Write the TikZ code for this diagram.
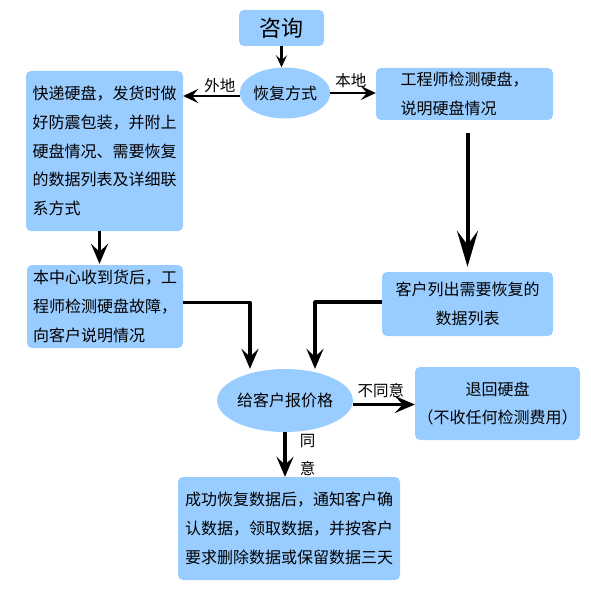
\documentclass[tikz,border=0pt]{standalone}
\usepackage{fontspec}
\newfontfamily\cjk{Noto Sans CJK SC}
\usetikzlibrary{shapes.geometric,arrows.meta}
\definecolor{boxblue}{RGB}{153,204,255}
\tikzset{
  box/.style={fill=boxblue, rounded corners=5pt, inner sep=0pt, align=left,
    font=\cjk\fontsize{16}{28.8}\selectfont},
  oval/.style={ellipse, fill=boxblue, inner sep=0pt, font=\cjk\fontsize{16}{20}\selectfont},
  flow/.style={line width=3.6pt, line join=round, -{Stealth[length=20pt,width=17pt,inset=8pt]}},
  thinflow/.style={line width=2.6pt, -{Stealth[length=15pt,width=14pt,inset=6pt]}},
  lbl/.style={font=\cjk\fontsize{15.5}{28}\selectfont, inner sep=1pt}
}
\begin{document}
\begin{tikzpicture}[x=1pt,y=-1pt]
    \useasboundingbox (0,0) rectangle (591,591);

    \node[box, minimum width=85, minimum height=36, font=\cjk\fontsize{22}{24}\selectfont] (zx) at (281.5,28) {咨询};
    \node[oval, minimum width=88, minimum height=51] (fs) at (285,93) {恢复方式};

    \node[box, minimum width=157, minimum height=160] (kd) at (104.5,151)
      {快递硬盘，发货时做\\好防震包装，并附上\\硬盘情况、需要恢复\\的数据列表及详细联\\系方式};
    \node[box, minimum width=177, minimum height=52] (gc) at (464.5,94)
      {工程师检测硬盘，\\说明硬盘情况};

    \node[box, minimum width=156, minimum height=83] (sh) at (105,306.5)
      {本中心收到货后，工\\程师检测硬盘故障，\\向客户说明情况};
    \node[box, minimum width=171, minimum height=64, align=center] (lb) at (467.5,304)
      {客户列出需要恢复的\\数据列表};

    \node[oval, minimum width=126, minimum height=63] (bj) at (285,400.5) {给客户报价格};
    \node[box, minimum width=165, minimum height=73, align=center] (th) at (497.5,403.5)
      {退回硬盘\\（不收任何检测费用）};

    \node[box, minimum width=222, minimum height=103] (cg) at (289,528.5)
      {成功恢复数据后，通知客户确\\认数据，领取数据，并按客户\\要求删除数据或保留数据三天};

    \draw[thinflow, line width=2.2pt, -{Stealth[length=12pt,width=11pt,inset=5pt]}] (zx.south) -- (zx.south |- fs.north);
    \draw[thinflow] ([yshift=-3pt]fs.west) -- ([yshift=-3pt]fs.west -| kd.east)
      node[lbl, pos=0.35, above=1pt] {外地};
    \draw[thinflow] (fs.east) -- (fs.east -| gc.west)
      node[lbl, pos=0.45, above=3pt] {本地};
    \draw[flow, line width=4pt, -{Stealth[length=36pt,width=21pt,inset=14pt]}, shorten <=13pt, shorten >=5pt]
      (lb.north |- gc.south) -- (lb.north);
    \draw[flow, shorten >=1pt] ([xshift=-5pt]kd.south) -- ([xshift=-5pt]kd.south |- sh.north);
    \draw[flow] ([yshift=4pt]sh.east) -| ([xshift=-35pt]bj.north);
    \draw[flow] ([yshift=2pt]lb.west) -| ([xshift=30pt]bj.north);
    \draw[flow] ([yshift=-4pt]bj.east) -- ([yshift=-4pt]bj.east -| th.west)
      node[lbl, pos=0.45, above=4pt] {不同意};
    \draw[flow] (bj.south) -- (bj.south |- cg.north)
      node[lbl, pos=0.5, right=12pt, align=center] {同\\意};
\end{tikzpicture}
\end{document}
